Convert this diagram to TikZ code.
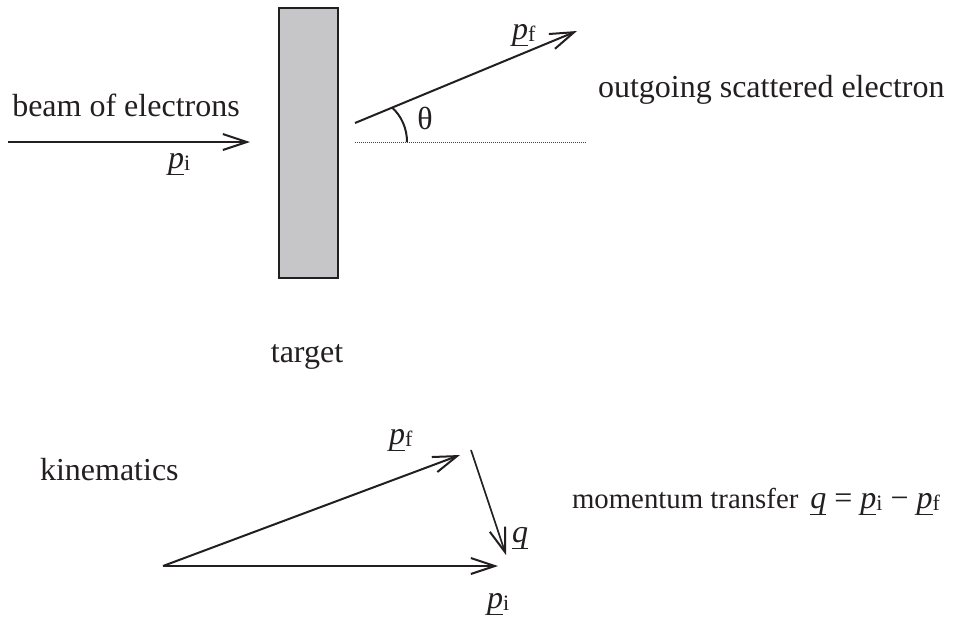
\documentclass[tikz,border=0pt]{standalone}
\usepackage{fontspec}
\setmainfont{Liberation Serif}
\usetikzlibrary{arrows.meta}
\definecolor{ink}{HTML}{231F20}
\definecolor{tgt}{HTML}{C6C6C8}
\newcommand{\uvec}[1]{{\setbox0\hbox{\textit{#1}}\rlap{\rule[\dimexpr-\dp0-0.2pt\relax]{\wd0}{0.7pt}}\box0}}
\newcommand{\sbs}[1]{\raisebox{-1.2pt}{\fontsize{11}{11}\selectfont #1}}
\begin{document}
\begin{tikzpicture}[x=0.5pt,y=-0.5pt,
  lbl/.style={inner sep=0pt, outer sep=0pt, anchor=base, font=\fontsize{16}{19}\selectfont, text=ink},
  vec/.style={draw=ink, line width=1pt, -{Straight Barb[length=12pt,width=8pt,line width=1pt]}},
  thinvec/.style={vec, line width=0.8pt},
  guide/.style={draw=ink!85, line width=0.5pt, dash pattern=on 0.5pt off 0.5pt},
  anglearc/.style={draw=ink, line width=1pt}
]
\useasboundingbox (0,0) rectangle (968,622);
% target
\node[draw=ink, fill=tgt, line width=1pt, minimum width=29.5pt, minimum height=135pt, inner sep=0pt, anchor=north west] (target) at (278,7) {};
% incoming beam
\coordinate (bs) at (8,142);
\coordinate (be) at (250,142);
\draw[vec] (bs) -- (be);
\node[lbl] (beamlbl) at (126,116) {beam of electrons};
\node[lbl, anchor=base west] (pi1) at (168,168) {\uvec{p}\sbs{i}};
% outgoing
\coordinate (os) at (355,123);
\coordinate (oe) at (577,31);
\draw[vec] (os) -- (oe);
\coordinate (ds) at (355,142);
\coordinate (de) at (587,142);
\draw[guide] (ds) -- (de);
\coordinate (a1) at (392,107.5);
\coordinate (a2) at (407,142);
\draw[anglearc] (a1) .. controls (401.5,116) and (407,128.5) .. (a2);
\node[lbl] (theta) at (425,129) {θ};
\node[lbl, anchor=base west] (pf1) at (512,39) {\uvec{p}\sbs{f}};
\node[lbl, anchor=base west] (out) at (598,97) {outgoing scattered electron};
\node[lbl] (tlbl) at (307,362) {target};
% kinematics
\node[lbl, anchor=base west] (kin) at (40,480) {kinematics};
\coordinate (o) at (163,566);
\coordinate (pit) at (498,566);
\coordinate (pft) at (460,455);
\coordinate (qs) at (471,450);
\coordinate (qe) at (506,555);
\draw[vec] (o) -- (pit);
\draw[vec] (o) -- (pft);
\draw[thinvec] (qs) -- (qe);
\node[lbl, anchor=base west] (pf2) at (389,444) {\uvec{p}\sbs{f}};
\node[lbl, anchor=base west] (ql) at (512,542) {\uvec{q}};
\node[lbl, anchor=base west] (pi2) at (487,608) {\uvec{p}\sbs{i}};
\node[lbl, anchor=base west] (mt) at (572,508) {{\fontsize{14.4}{17}\selectfont momentum transfer}\hspace{6pt}\uvec{q}\hspace{4pt}=\hspace{4pt}\uvec{p}\sbs{i}\hspace{4pt}−\hspace{4pt}\uvec{p}\sbs{f}};
\end{tikzpicture}
\end{document}
